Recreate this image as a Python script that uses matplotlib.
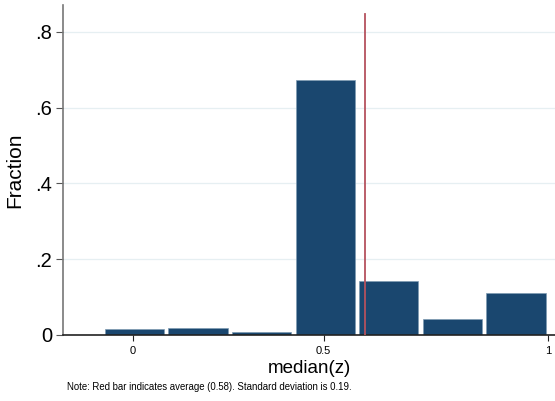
import matplotlib.pyplot as plt

plt.rcParams['font.family'] = ['Liberation Sans', 'DejaVu Sans']

# bar centres (bin mid-points) and fractions
bin_centers = [0, 1/6, 2/6, 3/6, 4/6, 5/6, 1]
fractions = [0.016, 0.019, 0.008, 0.672, 0.142, 0.041, 0.112]
bin_width = 1/6

mean_value = 0.58
sd_value = 0.19
mean_line_x = 0.608   # where the red line sits on the drawn axis
mean_line_top = 0.848

x_ticks = [0, 0.5, 1.088]
x_ticklabels = ['0', '0.5', '1']
y_ticks = [0, 0.2, 0.4, 0.6, 0.8]
y_ticklabels = ['0', '.2', '.4', '.6', '.8']

fig = plt.figure(figsize=(5.55, 4.01), dpi=100)
ax = fig.add_axes([0.1135, 0.1646, 0.8865, 0.823])

ax.bar([c + 0.004 for c in bin_centers], fractions, width=bin_width * 0.93,
       color='#1a476f', edgecolor='#7f9bb3', linewidth=0.5, zorder=2)
ax.plot([mean_line_x, mean_line_x], [0, mean_line_top], color='#b5525e',
        linewidth=1.3, zorder=3)

ax.set_xlim(-0.183, 1.106)
ax.set_ylim(0, 0.871)

ax.set_yticks(y_ticks)
ax.set_yticklabels(y_ticklabels, fontsize=14.5)
ax.set_xticks(x_ticks)
ax.set_xticklabels(x_ticklabels, fontsize=8)
ax.tick_params(axis='y', length=5, width=0.8, color='#555555', pad=3)
ax.tick_params(axis='x', length=4, width=0.8, color='#222222', pad=4)

ax.yaxis.grid(True, color='#e6eff2', linewidth=0.9, zorder=0)
ax.set_axisbelow(True)

for s in ['top', 'right']:
    ax.spines[s].set_visible(False)
ax.spines['left'].set_color('#777777')
ax.spines['left'].set_linewidth(1.2)
ax.spines['bottom'].set_color('#222222')
ax.spines['bottom'].set_linewidth(1.2)

ax.set_ylabel('Fraction', fontsize=15, labelpad=8)
ax.set_xlabel('median(z)', fontsize=13.5, labelpad=3)

fig.text(0.121, 0.035,
         f'Note: Red bar indicates average ({mean_value:.2f}). '
         f'Standard deviation is {sd_value:.2f}.',
         fontsize=6.9, ha='left', va='center')

fig.savefig('out.png', dpi=100)
